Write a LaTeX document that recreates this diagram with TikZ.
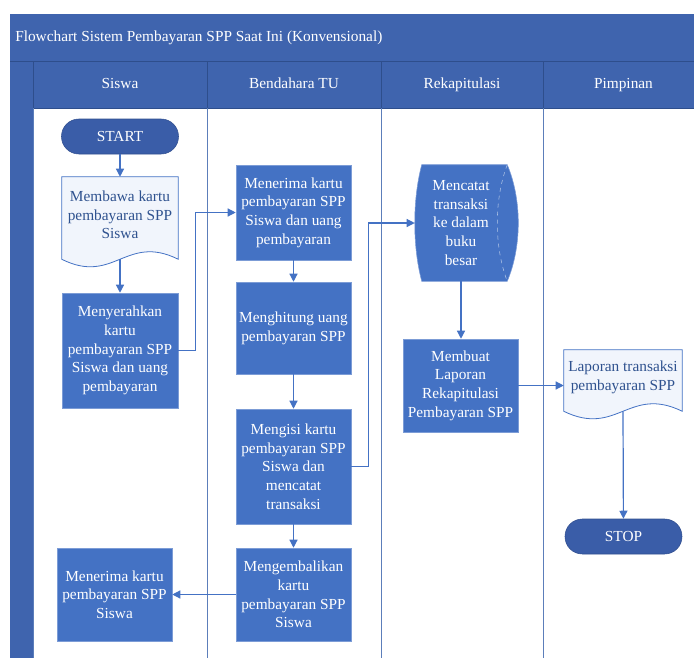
\documentclass[tikz,border=0pt]{standalone}
\usepackage{fontspec}
\setmainfont{Liberation Serif}
\usetikzlibrary{arrows.meta,calc,backgrounds}

\definecolor{hdrblue}{RGB}{63,100,174}
\definecolor{hdrline}{RGB}{46,78,140}
\definecolor{boxblue}{RGB}{68,114,196}
\definecolor{termblue}{RGB}{58,93,168}
\definecolor{docfill}{RGB}{241,245,252}
\definecolor{doctext}{RGB}{47,82,143}
\definecolor{laneline}{RGB}{92,126,186}

\begin{document}
\begin{tikzpicture}[x=0.75pt,y=-0.75pt,
    font=\fontsize{11.5}{14}\selectfont,
    proc/.style={fill=boxblue,draw=boxblue!70!white,text=white,align=center,inner sep=1pt},
    term/.style={fill=termblue,draw=termblue!85!black,text=white,rounded corners=13pt,
      minimum width=87.75pt,minimum height=26.25pt},
    doc/.style={text=doctext,align=center,inner sep=1pt},
    docshape/.style={draw=boxblue,fill=docfill,line width=0.6pt},
    arr/.style={draw=boxblue,line width=0.9pt,-{Triangle[length=6pt,width=6pt]}},
    lane/.style={draw=laneline,line width=0.6pt},
    hdrtext/.style={text=white,text height=8pt,text depth=2.5pt}]
  \useasboundingbox (0,0) rectangle (694,658);
  \clip (0,0) rectangle (694,658);

  % title bar, header row and left bar
  \fill[hdrblue] (10,14) rectangle (704,108);
  \fill[hdrblue] (10,108) rectangle (33,670);
  \draw[hdrline] (10,61) -- (704,61);
  \node[hdrtext,anchor=west,inner sep=0pt] (title) at (15,38)
    {Flowchart Sistem Pembayaran SPP Saat Ini (Konvensional)};

  %% the lanes
  \foreach \a/\b/\lbl in {33/207/Siswa,207/381/Bendahara TU,381/543/Rekapitulasi,543/704/Pimpinan}
  {
    \draw[hdrline] (\a,61) rectangle (\b,108);
    \node[hdrtext] (hd\a) at ({(\a+\b)/2},84.5) {\lbl};
    \draw[lane] (\a,108) -- (\a,670);
  }

  % Siswa
  \node[term] (start) at (120,136.5) {START};
  \node[doc,minimum width=87pt,minimum height=57pt] (bawa) at (120,215)
    {Membawa kartu\\pembayaran SPP\\Siswa};
  \node[proc,minimum width=87pt,minimum height=86.25pt] (serah) at (120,350.5)
    {Menyerahkan\\kartu\\pembayaran SPP\\Siswa dan uang\\pembayaran};
  \node[proc,minimum width=86.25pt,minimum height=69.75pt] (terimakartu) at (114.5,594.5)
    {Menerima kartu\\pembayaran SPP\\Siswa};

  % Bendahara TU
  \node[proc,minimum width=86.25pt,minimum height=71.25pt] (terima) at (293.5,212.5)
    {Menerima kartu\\pembayaran SPP\\Siswa dan uang\\pembayaran};
  \node[proc,minimum width=86.25pt,minimum height=69pt] (hitung) at (293.5,328)
    {Menghitung uang\\pembayaran SPP};
  \node[proc,minimum width=86.25pt,minimum height=86.25pt] (isi) at (293.5,466.5)
    {Mengisi kartu\\pembayaran SPP\\Siswa dan\\mencatat\\transaksi};
  \node[proc,minimum width=86.25pt,minimum height=69.75pt] (kembali) at (293.5,594.5)
    {Mengembalikan\\kartu\\pembayaran SPP\\Siswa};

  % Rekapitulasi
  \node[text=white,align=center,inner sep=1pt,minimum width=69pt,minimum height=87pt] (catat) at (461,223)
    {Mencatat\\transaksi\\ke dalam\\buku\\besar};
  \node[proc,minimum width=86.25pt,minimum height=69.75pt] (buat) at (460.5,385.5)
    {Membuat\\Laporan\\Rekapitulasi\\Pembayaran SPP};

  % Pimpinan
  \node[doc,minimum width=88.5pt,minimum height=40.5pt] (lapor) at (623,377)
    {Laporan transaksi\\pembayaran SPP};
  \node[term] (stop) at (623.5,536.5) {STOP};

  % outlines of the documents and the stored data
  \begin{scope}[on background layer]
    \draw[docshape] (bawa.north west) -- (bawa.north east) -- ($(bawa.south east)+(0,6)$)
      .. controls ($(bawa.south)+(6,-20)$) and ($(bawa.south)+(-6,32)$) .. ($(bawa.south west)+(0,6)$) -- cycle;
    \draw[docshape] (lapor.north west) -- (lapor.north east) -- ($(lapor.south east)+(0,7)$)
      .. controls ($(lapor.south)+(6,-19)$) and ($(lapor.south)+(-6,33)$) .. ($(lapor.south west)+(0,7)$) -- cycle;
    \draw[fill=boxblue,draw=boxblue!70!white] ($(catat.north west)+(7,0)$) -- (catat.north east)
      .. controls ($(catat.north east)+(14.7,35)$) and ($(catat.south east)+(14.7,-35)$) .. (catat.south east)
      -- ($(catat.south west)+(7,0)$)
      .. controls ($(catat.south west)+(-2.3,-35)$) and ($(catat.north west)+(-2.3,35)$) .. ($(catat.north west)+(7,0)$) -- cycle;
    \draw[white!60!boxblue,dashed,line width=0.4pt] (catat.north east)
      .. controls ($(catat.north east)+(-13.3,35)$) and ($(catat.south east)+(-13.3,-35)$) .. (catat.south east);
  \end{scope}

  % connectors
  \draw[arr] (start) -- (bawa);
  \draw[arr] ($(bawa.south)+(0,6)$) -- (serah);
  \draw[arr] (serah.east) -- ++(17,0) |- (terima.west);
  \draw[arr] (terima) -- (hitung);
  \draw[arr] (hitung) -- (isi);
  \draw[arr] (isi.east) -- ++(17,0) |- (catat.west);
  \draw[arr] (catat.south) -- (catat.south |- buat.north);
  \draw[arr] (buat.east) -- (buat.east -| lapor.west);
  \draw[arr] ($(lapor.south)+(0,7)$) -- (stop);
  \draw[arr] (isi) -- (kembali);
  \draw[arr] (kembali) -- (terimakartu);
\end{tikzpicture}
\end{document}
